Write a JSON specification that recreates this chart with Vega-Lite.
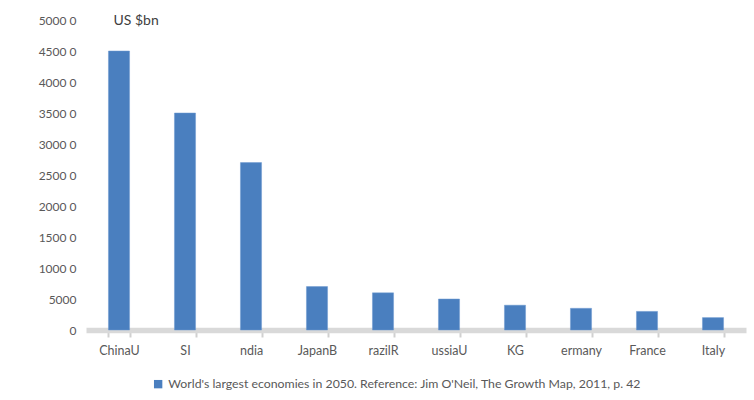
{
  "$schema": "https://vega.github.io/schema/vega-lite/v6.json",
  "width": 660,
  "height": 310,
  "autosize": "none",
  "padding": {"left": 86, "top": 20, "right": 8, "bottom": 70},
  "background": "white",
  "data": {
    "values": [
      {"country": "ChinaU", "gdp": 45000, "series": "World's largest economies in 2050. Reference: Jim O'Neil, The Growth Map, 2011, p. 42"},
      {"country": "SI", "gdp": 35000, "series": "World's largest economies in 2050. Reference: Jim O'Neil, The Growth Map, 2011, p. 42"},
      {"country": "ndia", "gdp": 27000, "series": "World's largest economies in 2050. Reference: Jim O'Neil, The Growth Map, 2011, p. 42"},
      {"country": "JapanB", "gdp": 7000, "series": "World's largest economies in 2050. Reference: Jim O'Neil, The Growth Map, 2011, p. 42"},
      {"country": "razilR", "gdp": 6000, "series": "World's largest economies in 2050. Reference: Jim O'Neil, The Growth Map, 2011, p. 42"},
      {"country": "ussiaU", "gdp": 5000, "series": "World's largest economies in 2050. Reference: Jim O'Neil, The Growth Map, 2011, p. 42"},
      {"country": "KG", "gdp": 4000, "series": "World's largest economies in 2050. Reference: Jim O'Neil, The Growth Map, 2011, p. 42"},
      {"country": "ermany", "gdp": 3500, "series": "World's largest economies in 2050. Reference: Jim O'Neil, The Growth Map, 2011, p. 42"},
      {"country": "France", "gdp": 3000, "series": "World's largest economies in 2050. Reference: Jim O'Neil, The Growth Map, 2011, p. 42"},
      {"country": "Italy", "gdp": 2000, "series": "World's largest economies in 2050. Reference: Jim O'Neil, The Growth Map, 2011, p. 42"}
    ]
  },
  "mark": {"type": "bar", "stroke": "#6f9bd0", "strokeWidth": 0.5},
  "encoding": {
    "x": {
      "field": "country",
      "type": "nominal",
      "sort": null,
      "scale": {"paddingInner": 0.68, "paddingOuter": 0.34},
      "axis": {
        "title": null,
        "labelAngle": 0,
        "labelFont": "Lato",
        "labelFontSize": 12.5,
        "labelColor": "#595959",
        "labelPadding": 7,
        "domainColor": "#d9d9d9",
        "domainWidth": 5.5,
        "tickColor": "#d0d0d0",
        "tickWidth": 2,
        "tickSize": 7,
        "tickBand": "extent"
      }
    },
    "y": {
      "field": "gdp",
      "type": "quantitative",
      "scale": {"domain": [0, 50000], "nice": false},
      "axis": {
        "values": [0, 5000, 10000, 15000, 20000, 25000, 30000, 35000, 40000, 45000, 50000],
        "labelExpr": "datum.value >= 10000 ? slice(toString(datum.value), 0, -1) + ' ' + slice(toString(datum.value), -1) : toString(datum.value)",
        "grid": false,
        "domain": false,
        "ticks": false,
        "labelPadding": 10,
        "labelFont": "Lato",
        "labelFontSize": 12,
        "labelColor": "#595959",
        "title": "US $bn",
        "titleAngle": 0,
        "titleAlign": "left",
        "titleBaseline": "middle",
        "titleX": 27,
        "titleY": 0,
        "titleFont": "Lato",
        "titleFontSize": 14,
        "titleFontWeight": "normal",
        "titleColor": "#404040"
      }
    },
    "color": {
      "field": "series",
      "type": "nominal",
      "scale": {"range": ["#4a7fbf"]},
      "legend": {
        "title": null,
        "orient": "none",
        "legendX": 66,
        "legendY": 358,
        "symbolType": "square",
        "symbolSize": 70,
        "symbolStrokeWidth": 0,
        "labelFont": "Lato",
        "labelFontSize": 12.3,
        "labelColor": "#595959",
        "labelLimit": 700
      }
    }
  },
  "config": {
    "view": {"stroke": null}
  }
}
